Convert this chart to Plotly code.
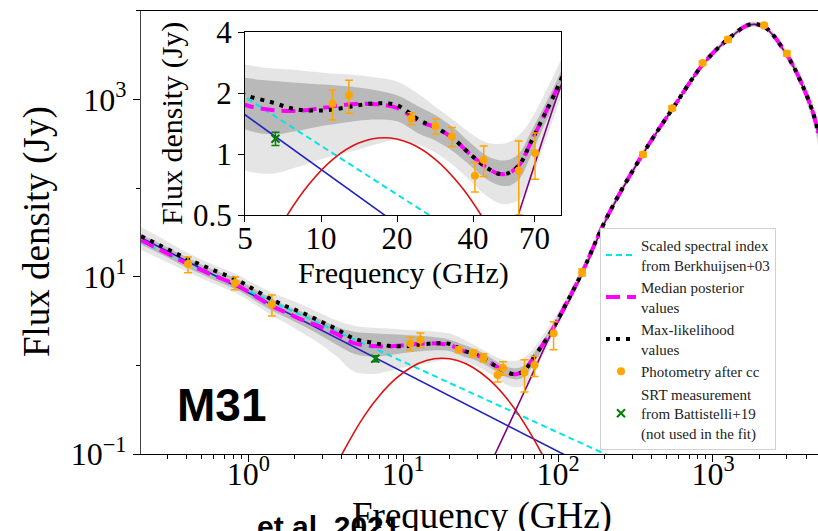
import plotly.graph_objects as go

# ---------------- data ----------------
phot_freq = [0.408, 0.82, 1.42, 11.1, 12.9, 22.8, 28.4, 33.0, 40.7, 44.1, 60.7, 70.4,
             93.5, 143, 353, 545, 857, 1249, 2141, 2998]
phot_flux = [13.9, 8.5, 4.9, 1.77, 1.95, 1.50, 1.37, 1.22, 0.78, 0.935, 0.83, 1.01,
             2.30, 11.2, 239, 796, 2577, 4732, 6873, 3289]
phot_err = [2.8, 1.4, 1.3, 0.30, 0.36, 0.10, 0.12, 0.13, 0.13, 0.16, 0.33, 0.26,
            0.8, 1.0, 15, 40, 120, 300, 300, 200]

srt_freq = [6.6]
srt_flux = [1.19]
srt_err = [0.09]

model_freq = [0.203, 0.3, 0.42, 0.6, 0.846, 1.1, 1.44, 1.8, 2.25, 2.9, 3.74, 4.81, 6.38,
              8.0, 10.2, 12.0, 14.0, 16.7, 20.0, 24.7, 28.2, 33.4, 38.9, 45.3, 51.2, 56.0,
              61.4, 67.3, 75.9, 88.5, 104, 143, 207, 353, 551, 873, 1250, 1734, 2168,
              3006, 3648, 4430, 4770]
median_flux = [25.9, 18.3, 13.5, 10.3, 8.0, 6.09, 4.6, 3.86, 3.24, 2.73, 2.25, 1.78, 1.65,
               1.63, 1.69, 1.74, 1.77, 1.76, 1.69, 1.44, 1.36, 1.19, 1.0, 0.857, 0.796, 0.81,
               0.893, 1.12, 1.52, 2.27, 3.8, 11.2, 47, 244, 796, 2560, 4775, 6980, 6500,
               3150, 1650, 700, 420]
maxlike_flux = [28.7, 20.5, 15.4, 11.8, 9.2, 7.1, 5.45, 4.55, 3.9, 3.15, 2.55, 2.0, 1.80,
                1.66, 1.64, 1.68, 1.74, 1.78, 1.74, 1.46, 1.36, 1.19, 1.0, 0.857, 0.796, 0.81,
                0.893, 1.12, 1.52, 2.27, 3.8, 11.2, 47, 244, 796, 2560, 4775, 6980, 6500,
                3150, 1650, 700, 420]
band_outer_hi = [36, 25, 18, 13.5, 10.6, 8.3, 6.5, 5.6, 4.8, 3.9, 3.2, 2.8, 2.65,
                 2.6, 2.52, 2.48, 2.45, 2.38, 2.28, 1.95, 1.72, 1.47, 1.27, 1.14, 1.12, 1.15,
                 1.25, 1.45, 1.92, 2.85, 4.5, 12.8, 52, 268, 870, 2780, 5150, 7500, 7050,
                 3550, 2000, 900, 560]
band_outer_lo = [20, 14.5, 11, 8.3, 6.4, 4.9, 3.6, 2.9, 2.3, 1.75, 1.25, 0.85, 0.8,
                 0.86, 0.95, 1.0, 1.05, 1.12, 1.18, 1.1, 1.02, 0.88, 0.74, 0.62, 0.57, 0.57,
                 0.60, 0.72, 1.08, 1.85, 3.2, 9.8, 42, 222, 730, 2350, 4420, 6480, 5950,
                 2780, 1450, 530, 300]
band_inner_hi = [30, 21.5, 15.8, 11.9, 9.4, 7.2, 5.6, 4.6, 4.0, 3.3, 2.7, 2.4, 2.3,
                 2.25, 2.2, 2.17, 2.13, 2.06, 1.95, 1.70, 1.56, 1.35, 1.14, 0.98, 0.93, 0.94,
                 1.02, 1.26, 1.68, 2.5, 4.1, 12.0, 50, 258, 840, 2680, 4980, 7250, 6780,
                 3370, 1880, 820, 490]
band_inner_lo = [23, 16.5, 12.2, 9.2, 7.1, 5.4, 4.1, 3.4, 2.8, 2.2, 1.7, 1.35, 1.25,
                 1.3, 1.38, 1.42, 1.46, 1.48, 1.45, 1.25, 1.17, 1.03, 0.88, 0.75, 0.70, 0.70,
                 0.76, 0.96, 1.35, 2.05, 3.5, 10.4, 44.5, 231, 755, 2440, 4570, 6700, 6200,
                 2950, 1560, 600, 350]

sync_freq = [0.203, 1.0, 5.0, 20.0, 107.6, 150]
sync_flux = [27.5, 6.59, 1.56, 0.451, 0.1, 0.0743]

scaled_freq = [0.203, 1.0, 5.0, 20.0, 201, 300]
scaled_flux = [24.7, 6.9, 1.91, 0.63, 0.1, 0.0726]

ame_freq = [3.16, 4.03, 5.62, 7.08, 8.91, 11.2, 14.1, 17.8, 22.4, 28.2, 35.5, 44.7, 56.2, 78.7, 100]
ame_flux = [0.042, 0.1, 0.271, 0.463, 0.703, 0.947, 1.133, 1.202, 1.133, 0.947, 0.703, 0.463,
            0.271, 0.1, 0.042]

dust_freq = [30, 39.2, 60.4, 88.3, 104, 143, 207, 353, 551, 873, 1250, 1734, 2168, 3006,
             3648, 4430, 4770]
dust_flux = [0.036, 0.1, 0.5, 2.1, 3.5, 10.6, 46, 242, 790, 2540, 4740, 6930, 6450, 3120,
             1630, 690, 415]

main_xticks = [1, 10, 100, 1000]
main_xticktext = ["10<sup>0</sup>", "10<sup>1</sup>", "10<sup>2</sup>", "10<sup>3</sup>"]
main_yticks = [0.1, 10, 1000]
main_yticktext = ["10<sup>\u22121</sup>", "10<sup>1</sup>", "10<sup>3</sup>"]
inset_xticks = [5, 10, 20, 40, 70]
inset_xticktext = ["5", "10", "20", "40", "70"]
inset_yticks = [0.5, 1, 2, 4]
inset_yticktext = ["0.5", "1", "2", "4"]

# ---------------- figure ----------------
W, H = 818, 531
SERIF = "Liberation Serif, Times New Roman, serif"

fig = go.Figure()


def add_all(xa, ya, legend):
    fig.add_trace(go.Scatter(x=model_freq, y=band_outer_hi, mode="lines", line=dict(width=0, shape="spline"),
                             showlegend=False, hoverinfo="skip", xaxis=xa, yaxis=ya))
    fig.add_trace(go.Scatter(x=model_freq, y=band_outer_lo, mode="lines", line=dict(width=0, shape="spline"),
                             fill="tonexty", fillcolor="rgba(175,175,175,0.33)",
                             showlegend=False, hoverinfo="skip", xaxis=xa, yaxis=ya))
    fig.add_trace(go.Scatter(x=model_freq, y=band_inner_hi, mode="lines", line=dict(width=0, shape="spline"),
                             showlegend=False, hoverinfo="skip", xaxis=xa, yaxis=ya))
    fig.add_trace(go.Scatter(x=model_freq, y=band_inner_lo, mode="lines", line=dict(width=0, shape="spline"),
                             fill="tonexty", fillcolor="rgba(125,125,125,0.42)",
                             showlegend=False, hoverinfo="skip", xaxis=xa, yaxis=ya))
    fig.add_trace(go.Scatter(x=scaled_freq, y=scaled_flux, mode="lines",
                             line=dict(color="#00e5e5", width=2, dash="6px,4px"),
                             name="Scaled spectral index<br>from Berkhuijsen+03",
                             showlegend=legend, xaxis=xa, yaxis=ya))
    fig.add_trace(go.Scatter(x=sync_freq, y=sync_flux, mode="lines",
                             line=dict(color="#2020c0", width=1.6),
                             showlegend=False, xaxis=xa, yaxis=ya))
    fig.add_trace(go.Scatter(x=ame_freq, y=ame_flux, mode="lines",
                             line=dict(color="#e01010", width=1.6, shape="spline"),
                             showlegend=False, xaxis=xa, yaxis=ya))
    fig.add_trace(go.Scatter(x=dust_freq, y=dust_flux, mode="lines",
                             line=dict(color="#800080", width=1.6, shape="spline"),
                             showlegend=False, xaxis=xa, yaxis=ya))
    fig.add_trace(go.Scatter(x=model_freq, y=median_flux, mode="lines",
                             line=dict(color="#ff00ff", width=4, dash="14px,7px", shape="spline"),
                             name="Median posterior<br>values",
                             showlegend=legend, xaxis=xa, yaxis=ya))
    fig.add_trace(go.Scatter(x=model_freq, y=maxlike_flux, mode="lines",
                             line=dict(color="black", width=4, dash="4px,6px", shape="spline"),
                             name="Max-likelihood<br>values",
                             showlegend=legend, xaxis=xa, yaxis=ya))
    fig.add_trace(go.Scatter(x=phot_freq, y=phot_flux, mode="markers",
                             marker=dict(color="orange", size=8),
                             error_y=dict(type="data", array=phot_err, color="orange", thickness=1.5, width=4),
                             name="Photometry after cc",
                             showlegend=legend, xaxis=xa, yaxis=ya))
    fig.add_trace(go.Scatter(x=srt_freq, y=srt_flux, mode="markers",
                             marker=dict(color="green", size=8, symbol="x-thin", line=dict(color="green", width=2)),
                             error_y=dict(type="data", array=srt_err, color="green", thickness=1.5, width=4),
                             name="SRT measurement<br>from Battistelli+19<br>(not used in the fit)",
                             showlegend=legend, xaxis=xa, yaxis=ya))


add_all("x", "y", True)
add_all("x2", "y2", False)

x_minor = [m * 10 ** k for k in range(-1, 4) for m in range(2, 10)]

fig.update_layout(
    width=W, height=H, autosize=False,
    margin=dict(l=0, r=0, t=0, b=0, pad=0, autoexpand=False),
    paper_bgcolor="white", plot_bgcolor="white",
    font=dict(family=SERIF, color="black"),
    xaxis=dict(type="log", range=[-0.693, 3.678], domain=[141 / W, 1.0], automargin=False,
               showgrid=False, zeroline=False, showline=True, linecolor="black", linewidth=1.2,
               mirror=True, ticks="outside", ticklen=7, tickcolor="black", ticklabelstandoff=-16,
               tickvals=main_xticks, ticktext=main_xticktext, tickfont=dict(size=32, family=SERIF),
               minor=dict(tickvals=x_minor, ticks="outside", ticklen=4, tickcolor="black"),
               anchor="y"),
    yaxis=dict(type="log", range=[-1, 4], domain=[(H - 454) / H, (H - 10.7) / H], automargin=False,
               showgrid=False, zeroline=False, showline=True, linecolor="#444", linewidth=1.2,
               ticks="outside", ticklen=7, tickcolor="black",
               tickvals=main_yticks, ticktext=main_yticktext, tickfont=dict(size=32, family=SERIF),
               minor=dict(tickvals=[1, 100, 10000], ticks="outside", ticklen=4, tickcolor="black"),
               anchor="x"),
    xaxis2=dict(type="log", range=[0.699, 1.9505], domain=[245 / W, 561 / W], automargin=False,
                showgrid=False, zeroline=False, showline=True, linecolor="black", linewidth=1.2,
                mirror=True, ticks="outside", ticklen=6, tickcolor="black", ticklabelstandoff=-10,
                tickvals=inset_xticks, ticktext=inset_xticktext, tickfont=dict(size=31, family=SERIF),
                anchor="y2"),
    yaxis2=dict(type="log", range=[-0.30103, 0.60206], domain=[(H - 215) / H, (H - 32) / H],
                automargin=False,
                showgrid=False, zeroline=False, showline=True, linecolor="black", linewidth=1.2,
                mirror=True, ticks="outside", ticklen=6, tickcolor="black",
                tickvals=inset_yticks, ticktext=inset_yticktext, tickfont=dict(size=31, family=SERIF),
                anchor="x2"),
    legend=dict(x=600 / W, y=(H - 228) / H, xanchor="left", yanchor="top", traceorder="normal",
                font=dict(size=15, family=SERIF, color="#222"),
                bgcolor="white", bordercolor="#d0d0d0", borderwidth=1),
    showlegend=True,
)

fig.add_annotation(text="Flux density (Jy)", x=37 / W, y=(H - 232) / H, xref="paper", yref="paper",
                   textangle=-90, showarrow=False, font=dict(size=37, family=SERIF),
                   xanchor="center", yanchor="middle")
fig.add_annotation(text="<b>et al. 2021</b>", x=255 / W, y=(H - 508) / H, xref="paper", yref="paper",
                   showarrow=False, font=dict(size=30, family="Liberation Sans", color="black"),
                   xanchor="left", yanchor="top")
fig.add_annotation(text="Frequency (GHz)", x=482 / W, y=(H - 516) / H, xref="paper", yref="paper",
                   showarrow=False, font=dict(size=37, family=SERIF), xanchor="center", yanchor="middle")
fig.add_annotation(text="Flux density (Jy)", x=172 / W, y=(H - 124) / H, xref="paper", yref="paper",
                   textangle=-90, showarrow=False, font=dict(size=30, family=SERIF),
                   xanchor="center", yanchor="middle")
fig.add_annotation(text="Frequency (GHz)", x=403 / W, y=(H - 273) / H, xref="paper", yref="paper",
                   showarrow=False, font=dict(size=30, family=SERIF), xanchor="center", yanchor="middle")
fig.add_annotation(text="<b>M31</b>", x=222 / W, y=(H - 405) / H, xref="paper", yref="paper",
                   showarrow=False, font=dict(size=46, family="Liberation Sans", color="black"),
                   xanchor="center", yanchor="middle")

fig.write_html("out.html", post_script="document.body.style.margin='0px';",
               config={"displayModeBar": False})
